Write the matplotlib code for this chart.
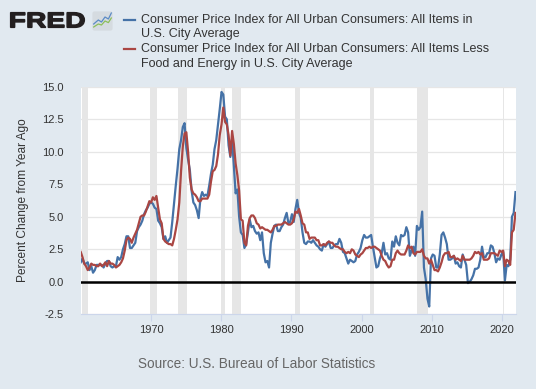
import matplotlib
matplotlib.use("Agg")
import matplotlib.pyplot as plt
import matplotlib.patches as patches
from matplotlib.textpath import TextPath
from matplotlib.font_manager import FontProperties
from matplotlib.transforms import Affine2D
import numpy as np

plt.rcParams["font.family"] = ["Liberation Sans", "DejaVu Sans"]

BG = "#e1e9f0"
BLUE = "#4572a7"
RED = "#aa4643"

# quarterly year-over-year percent change, 1960Q1 .. 2021Q4
cpi_all = [
    1.5, 1.8, 1.4, 1.4,   1.5, 0.9, 1.2, 0.7,   0.9, 1.3, 1.3, 1.3,   1.3, 1.1, 1.4, 1.6,
    1.6, 1.2, 1.1, 1.2,   1.2, 1.9, 1.7, 1.9,   2.5, 2.9, 3.5, 3.5,   2.6, 2.6, 2.8, 3.0,
    3.9, 4.2, 4.4, 4.7,   5.2, 5.5, 5.7, 6.0,   6.1, 6.0, 5.7, 5.6,   4.7, 4.5, 4.2, 3.3,
    3.5, 3.0, 3.2, 3.4,   4.6, 6.0, 7.4, 8.7,   10.2, 10.9, 11.9, 12.2,   10.3, 9.4, 8.6, 7.0,
    6.1, 5.9, 5.5, 4.9,   6.4, 6.9, 6.6, 6.7,   6.6, 7.4, 8.3, 9.0,   10.2, 10.9, 12.1, 13.3,
    14.6, 14.4, 12.7, 12.5,   10.5, 9.6, 11.0, 8.9,   6.8, 7.1, 5.0, 3.8,   3.6, 2.6, 2.9, 3.8,
    4.8, 4.2, 4.3, 3.9,   3.7, 3.8, 3.2, 3.8,   2.2, 1.5, 1.6, 1.1,   3.0, 3.7, 4.3, 4.4,
    3.9, 3.9, 4.2, 4.4,   4.9, 5.3, 4.5, 4.6,   5.2, 4.6, 5.6, 6.3,   5.3, 4.9, 3.8, 3.0,
    2.9, 3.1, 3.1, 3.0,   3.2, 3.0, 2.8, 2.7,   2.5, 2.4, 2.9, 2.7,   2.9, 3.1, 2.6, 2.6,
    2.8, 2.9, 2.9, 3.3,   3.0, 2.3, 2.2, 1.8,   1.4, 1.7, 1.6, 1.5,   1.6, 2.1, 2.3, 2.6,
    3.2, 3.6, 3.4, 3.4,   3.5, 3.6, 2.7, 1.9,   1.1, 1.2, 1.8, 2.2,   3.0, 2.1, 2.2, 1.8,
    1.7, 3.1, 2.7, 3.5,   3.0, 2.8, 3.6, 3.5,   3.6, 4.2, 3.8, 2.0,   2.4, 2.7, 2.0, 4.3,
    4.0, 4.2, 5.4, 1.1,   0.2, -1.3, -1.9, 1.8,   2.1, 2.0, 1.1, 1.1,   2.1, 3.6, 3.8, 3.4,
    2.9, 1.7, 1.7, 1.8,   2.0, 1.4, 1.5, 1.2,   1.1, 2.1, 1.7, 1.3,   -0.1, 0.0, 0.2, 0.5,
    1.0, 1.0, 1.1, 1.7,   2.7, 1.9, 1.9, 2.2,   2.2, 2.8, 2.7, 2.2,   1.5, 1.8, 1.7, 2.1,
    2.3, 0.1, 1.3, 1.2,   1.7, 5.0, 5.3, 6.9,
]
cpi_core = [
    2.3, 1.9, 1.4, 1.2,   0.9, 1.1, 1.4, 1.3,   1.3, 1.2, 1.2, 1.4,   1.2, 1.3, 1.5, 1.2,
    1.6, 1.4, 1.4, 1.3,   1.1, 1.2, 1.3, 1.5,   1.8, 2.4, 3.2, 3.4,   3.3, 3.0, 3.4, 3.7,
    4.0, 4.5, 5.0, 5.1,   5.1, 5.4, 5.8, 6.2,   6.1, 6.5, 6.3, 6.6,   5.7, 4.8, 4.5, 3.3,
    3.1, 3.0, 2.9, 2.9,   2.8, 3.3, 4.0, 4.8,   6.1, 8.5, 10.4, 11.4,   11.5, 10.0, 8.0, 7.1,
    6.8, 6.7, 6.5, 6.2,   6.2, 6.4, 6.4, 6.4,   6.4, 6.7, 7.7, 8.5,   8.6, 8.9, 9.8, 11.3,
    12.1, 13.4, 12.3, 12.1,   11.3, 9.7, 11.6, 10.6,   9.1, 8.2, 7.0, 4.8,   4.7, 3.0, 2.8, 4.3,
    4.9, 5.1, 5.1, 4.9,   4.5, 4.4, 4.1, 4.2,   4.1, 4.0, 4.0, 3.9,   3.8, 4.0, 4.3, 4.3,
    4.4, 4.4, 4.4, 4.5,   4.6, 4.5, 4.4, 4.4,   4.5, 4.8, 5.4, 5.3,   5.6, 5.1, 4.5, 4.4,
    3.8, 3.8, 3.3, 3.4,   3.4, 3.4, 3.2, 3.2,   2.8, 2.8, 2.9, 2.8,   3.0, 3.1, 3.0, 3.0,
    2.8, 2.7, 2.7, 2.6,   2.5, 2.5, 2.3, 2.2,   2.3, 2.2, 2.5, 2.4,   2.1, 2.0, 1.9, 2.1,
    2.2, 2.4, 2.6, 2.6,   2.7, 2.6, 2.7, 2.7,   2.6, 2.5, 2.4, 2.0,   1.7, 1.6, 1.3, 1.1,
    1.2, 1.7, 1.7, 2.2,   2.4, 2.2, 2.1, 2.1,   2.1, 2.4, 2.8, 2.6,   2.7, 2.2, 2.1, 2.3,
    2.3, 2.3, 2.5, 2.0,   1.8, 1.8, 1.4, 1.7,   1.3, 0.9, 0.9, 0.8,   1.1, 1.5, 2.0, 2.2,
    2.2, 2.3, 1.9, 1.9,   2.0, 1.7, 1.8, 1.7,   1.6, 2.0, 1.7, 1.7,   1.7, 1.7, 1.8, 2.0,
    2.3, 2.2, 2.3, 2.1,   2.2, 1.7, 1.7, 1.7,   1.8, 2.2, 2.2, 2.2,   2.1, 2.0, 2.4, 2.3,
    2.4, 1.2, 1.7, 1.6,   1.3, 3.8, 4.0, 5.3,
]
recessions = [
    (1960.25, 1961.08), (1969.92, 1970.83), (1973.83, 1975.17), (1980.0, 1980.5),
    (1981.5, 1982.83), (1990.5, 1991.17), (2001.17, 2001.83), (2007.92, 2009.42),
    (2020.08, 2020.25),
]
years = np.linspace(1960.0, 2021.92, len(cpi_all))
xticks = [1970, 1980, 1990, 2000, 2010, 2020]
yticks = [-2.5, 0.0, 2.5, 5.0, 7.5, 10.0, 12.5, 15.0]

W, H = 536, 389
fig = plt.figure(figsize=(W / 100, H / 100), dpi=100, facecolor=BG)
ax = fig.add_axes([0.1506, 0.192, 0.8115, 0.585])
ax.set_facecolor("white")

for a, b in recessions:
    ax.axvspan(a, b, color="#e6e6e6", lw=0, zorder=1)

ax.plot(years, cpi_all, color=BLUE, lw=1.6, zorder=3)
ax.plot(years, cpi_core, color=RED, lw=1.6, zorder=4)
ax.axhline(0, color="black", lw=1.8, zorder=5)

ax.set_xlim(1960.0, 2021.95)
ax.set_ylim(-2.5, 15.0)
ax.set_xticks(xticks)
ax.set_xticklabels([str(t) for t in xticks])
ax.set_yticks(yticks)
ax.set_yticklabels(["%.1f" % t for t in yticks])
ax.grid(axis="y", color="#e6e6e6", lw=0.9, zorder=0)
ax.set_axisbelow(True)
for s in ["top", "right", "left"]:
    ax.spines[s].set_visible(False)
ax.spines["bottom"].set_color("#ccd6eb")
ax.tick_params(axis="x", colors="#ccd6eb", length=5, width=0.8, labelcolor="#333333",
               labelsize=8, pad=3)
ax.tick_params(axis="y", length=0, labelcolor="#333333", labelsize=8, pad=12)
ax.set_ylabel("Percent Change from Year Ago", fontsize=8.6, color="#333333", labelpad=10)

fig.text(0.478, 0.064, "Source: U.S. Bureau of Labor Statistics", ha="center",
         va="center", fontsize=9.8, color="#666666")

# FRED logo, stretched to the wide wordmark box
logo = TextPath((0, 0), "FRED", size=1,
                prop=FontProperties(family="Liberation Sans", weight="bold"))
ext = logo.get_extents()
x0, x1, y0, y1 = 10.6, 84.4, 12.6, 27.4  # pixel box, top-left origin
sx = (x1 - x0) / W / ext.width
sy = (y1 - y0) / H / ext.height
tr = Affine2D().translate(-ext.x0, -ext.y0).scale(sx, sy).translate(x0 / W, 1 - y1 / H)
fig.add_artist(patches.PathPatch(logo, transform=tr + fig.transFigure,
                                 fc="#231f20", ec="#231f20", lw=1.0))

icon = fig.add_axes([92 / W, 1 - 31 / H, 21 / W, 20 / H])
icon.set_xlim(0, 1)
icon.set_ylim(0, 1)
icon.axis("off")
icon.add_patch(patches.FancyBboxPatch((0.02, 0.02), 0.96, 0.96,
                                      boxstyle="round,pad=0,rounding_size=0.1",
                                      fc="#d5dbe0", ec="none"))
icon_x = [0.08, 0.3, 0.45, 0.62, 0.78, 0.92]
icon_blue = [0.35, 0.55, 0.45, 0.7, 0.6, 0.9]
icon_green = [0.2, 0.35, 0.3, 0.5, 0.42, 0.65]
icon.plot(icon_x, icon_blue, color="#5b8bc6", lw=0.9)
icon.plot(icon_x, icon_green, color="#8cbf5a", lw=0.9)

# legend
fig.add_artist(plt.Line2D([124 / W, 135 / W], [1 - 20 / H, 1 - 20 / H],
                          color=BLUE, lw=1.6))
fig.add_artist(plt.Line2D([124 / W, 135 / W], [1 - 49 / H, 1 - 49 / H],
                          color=RED, lw=1.6))
legend_lines = [
    "Consumer Price Index for All Urban Consumers: All Items in",
    "U.S. City Average",
    "Consumer Price Index for All Urban Consumers: All Items Less",
    "Food and Energy in U.S. City Average",
]
for i, t in enumerate(legend_lines):
    fig.text(141 / W, 1 - (20 + 14.5 * i) / H, t, fontsize=9, color="#333333",
             ha="left", va="center")

fig.savefig("out.png", dpi=100, facecolor=BG)
